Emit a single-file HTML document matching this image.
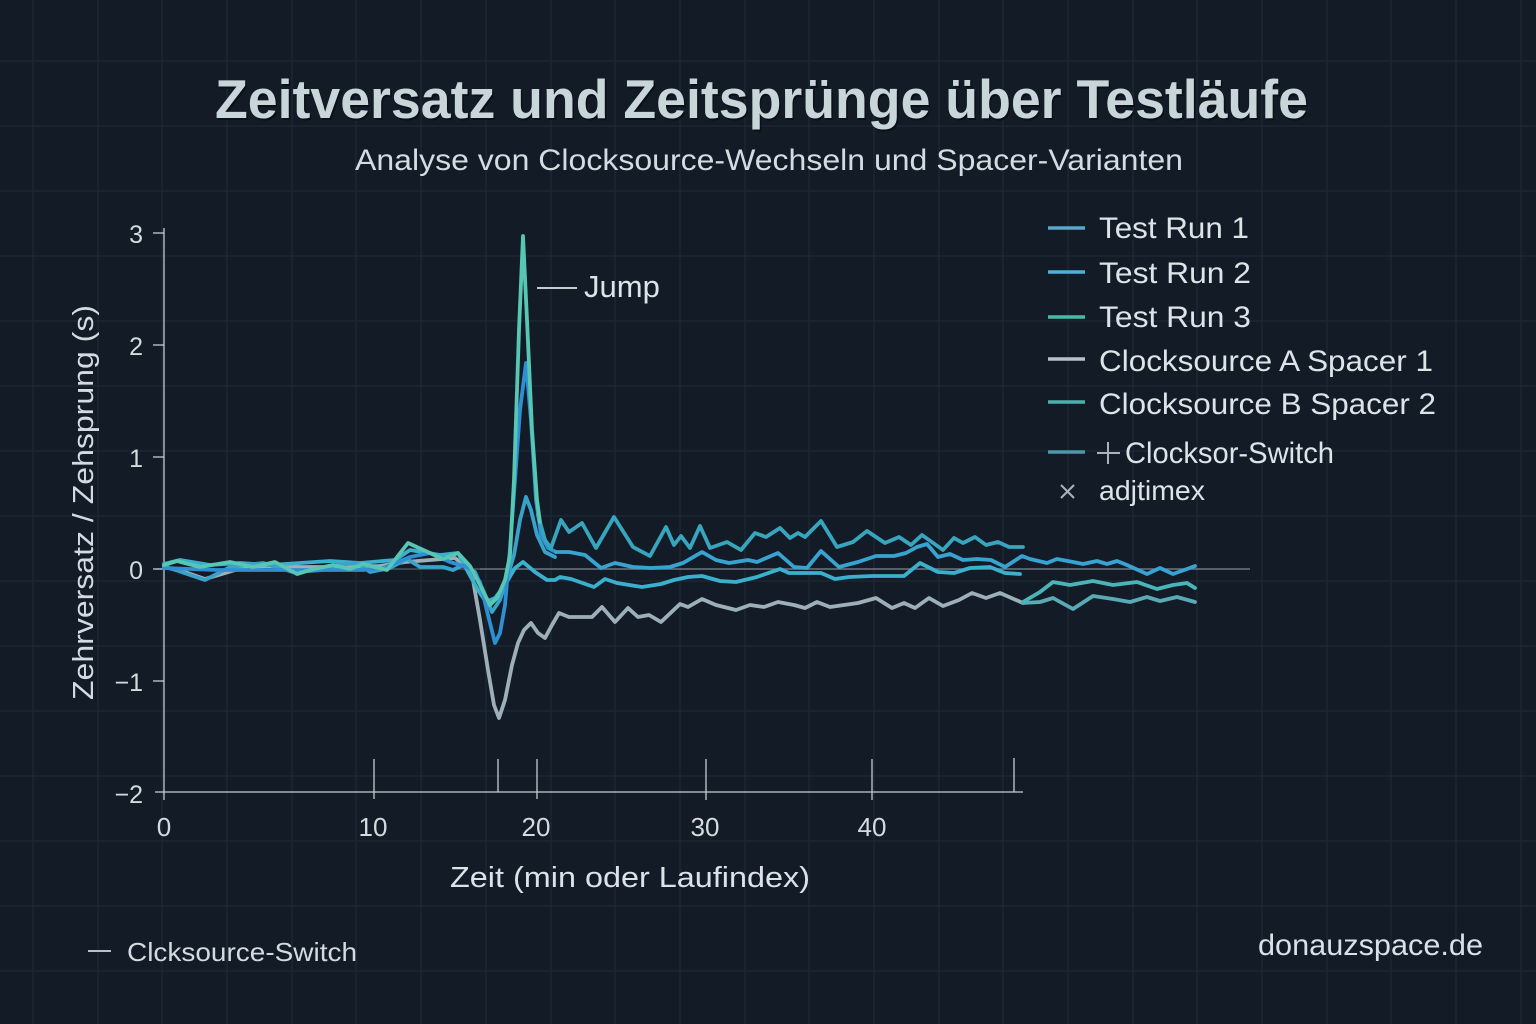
<!DOCTYPE html>
<html>
<head>
<meta charset="utf-8">
<style>
  html,body{margin:0;padding:0;background:#131b27;}
  svg{display:block;}
  text{font-family:"Liberation Sans",sans-serif;}
</style>
</head>
<body>
<svg width="1536" height="1024" viewBox="0 0 1536 1024" xmlns="http://www.w3.org/2000/svg">
  <rect x="0" y="0" width="1536" height="1024" fill="#131b27"/>
  <!-- background grid -->
  <g stroke="#1f2a37" stroke-width="1.2">
    <line x1="33" y1="0" x2="33" y2="1024"/>
    <line x1="98" y1="0" x2="98" y2="1024"/>
    <line x1="162" y1="0" x2="162" y2="1024"/>
    <line x1="227" y1="0" x2="227" y2="1024"/>
    <line x1="292" y1="0" x2="292" y2="1024"/>
    <line x1="356" y1="0" x2="356" y2="1024"/>
    <line x1="421" y1="0" x2="421" y2="1024"/>
    <line x1="486" y1="0" x2="486" y2="1024"/>
    <line x1="551" y1="0" x2="551" y2="1024"/>
    <line x1="615" y1="0" x2="615" y2="1024"/>
    <line x1="680" y1="0" x2="680" y2="1024"/>
    <line x1="745" y1="0" x2="745" y2="1024"/>
    <line x1="809" y1="0" x2="809" y2="1024"/>
    <line x1="874" y1="0" x2="874" y2="1024"/>
    <line x1="939" y1="0" x2="939" y2="1024"/>
    <line x1="1003" y1="0" x2="1003" y2="1024"/>
    <line x1="1068" y1="0" x2="1068" y2="1024"/>
    <line x1="1133" y1="0" x2="1133" y2="1024"/>
    <line x1="1197" y1="0" x2="1197" y2="1024"/>
    <line x1="1262" y1="0" x2="1262" y2="1024"/>
    <line x1="1327" y1="0" x2="1327" y2="1024"/>
    <line x1="1391" y1="0" x2="1391" y2="1024"/>
    <line x1="1456" y1="0" x2="1456" y2="1024"/>
    <line x1="1521" y1="0" x2="1521" y2="1024"/>
    <line x1="0" y1="61" x2="1536" y2="61"/>
    <line x1="0" y1="126" x2="1536" y2="126"/>
    <line x1="0" y1="191" x2="1536" y2="191"/>
    <line x1="0" y1="256" x2="1536" y2="256"/>
    <line x1="0" y1="321" x2="1536" y2="321"/>
    <line x1="0" y1="386" x2="1536" y2="386"/>
    <line x1="0" y1="451" x2="1536" y2="451"/>
    <line x1="0" y1="516" x2="1536" y2="516"/>
    <line x1="0" y1="581" x2="1536" y2="581"/>
    <line x1="0" y1="646" x2="1536" y2="646"/>
    <line x1="0" y1="711" x2="1536" y2="711"/>
    <line x1="0" y1="776" x2="1536" y2="776"/>
    <line x1="0" y1="841" x2="1536" y2="841"/>
    <line x1="0" y1="906" x2="1536" y2="906"/>
    <line x1="0" y1="971" x2="1536" y2="971"/>
  </g>

  <!-- Title -->
  <text x="215" y="118" font-size="55" font-weight="bold" fill="#0b1018" textLength="1093" lengthAdjust="spacingAndGlyphs" transform="translate(1.5,2)">Zeitversatz und Zeitsprünge über Testläufe</text>
  <text x="215" y="118" font-size="55" font-weight="bold" fill="#c9d6d9" textLength="1093" lengthAdjust="spacingAndGlyphs">Zeitversatz und Zeitsprünge über Testläufe</text>
  <text x="355" y="170" font-size="30" fill="#d3dce1" textLength="828" lengthAdjust="spacingAndGlyphs">Analyse von Clocksource-Wechseln und Spacer-Varianten</text>

  <!-- zero reference line -->
  <line x1="155" y1="569" x2="480" y2="569" stroke="#4a5660" stroke-width="1.5"/>
  <line x1="480" y1="569" x2="1250" y2="569" stroke="#6d7880" stroke-width="1.5"/>

  <!-- axes -->
  <g stroke="#c5cdd1" stroke-width="1.3" fill="none">
    <line x1="164" y1="228" x2="164" y2="800"/>
    <line x1="155" y1="792" x2="1023" y2="792"/>
    <line x1="153" y1="233" x2="164" y2="233"/>
    <line x1="153" y1="345" x2="164" y2="345"/>
    <line x1="153" y1="457" x2="164" y2="457"/>
    <line x1="153" y1="569" x2="164" y2="569"/>
    <line x1="153" y1="681" x2="164" y2="681"/>
    <line x1="374" y1="759" x2="374" y2="799"/>
    <line x1="498" y1="759" x2="498" y2="792"/>
    <line x1="537" y1="759" x2="537" y2="799"/>
    <line x1="706" y1="759" x2="706" y2="800"/>
    <line x1="872" y1="759" x2="872" y2="800"/>
    <line x1="1014" y1="758" x2="1014" y2="792"/>
  </g>

  <!-- y tick labels -->
  <g font-size="25" fill="#d3dbe0" text-anchor="end">
    <text x="143" y="243">3</text>
    <text x="143" y="355">2</text>
    <text x="143" y="467">1</text>
    <text x="143" y="579">0</text>
    <text x="143" y="691">−1</text>
    <text x="143" y="803">−2</text>
  </g>
  <!-- x tick labels -->
  <g font-size="26" fill="#d3dbe0" text-anchor="middle">
    <text x="164" y="836">0</text>
    <text x="373" y="836">10</text>
    <text x="536" y="836">20</text>
    <text x="705" y="836">30</text>
    <text x="872" y="836">40</text>
  </g>

  <!-- axis labels -->
  <text x="450" y="887" font-size="29" fill="#dbe3e8" textLength="360" lengthAdjust="spacingAndGlyphs">Zeit (min oder Laufindex)</text>
  <text transform="translate(93,700) rotate(-90)" x="0" y="0" font-size="29" fill="#d3dbe0" textLength="395" lengthAdjust="spacingAndGlyphs">Zehrversatz / Zehsprung (s)</text>

  <!-- series -->
  <g fill="none" stroke-width="3.8" stroke-linejoin="round" stroke-linecap="round">
    <polyline stroke="#9db0b9" points="164,567 185,572 205,579 235,570 265,566 300,567 340,567 380,566 405,562 430,560 455,558 465,566 473,580 480,620 488,670 494,705 499,718 505,700 512,665 518,643 524,630 531,623 538,633 545,638 552,625 559,613 569,617 592,617 602,607 615,622 628,608 638,617 649,615 661,622 680,604 688,607 702,599 716,605 736,610 750,605 764,607 778,602 794,605 805,608 817,602 830,607 858,603 876,598 892,608 904,603 915,608 929,598 943,606 959,600 972,593 986,598 1000,593 1023,603"/>
    <polyline stroke="#5aaab5" points="1023,603 1040,602 1053,598 1073,609 1093,596 1113,599 1130,602 1147,597 1160,601 1177,597 1195,602"/>
    <polyline stroke="#4ab5b8" points="1023,602 1040,592 1053,582 1070,585 1093,581 1113,585 1137,582 1157,589 1173,585 1187,583 1195,588"/>

    <polyline stroke="#3bb0cc" points="164,564 180,560 210,565 240,563 270,565 300,563 330,561 360,563 395,560 410,550 440,555 458,553 468,572 478,590 486,602 495,598 505,585 515,568 523,562 535,572 547,580 555,580 560,577 571,579 594,587 605,579 617,583 642,587 661,584 674,580 688,577 702,576 720,581 736,582 757,577 780,569 789,573 798,573 821,573 835,579 849,577 872,576 904,576 920,563 938,572 954,573 970,568 990,567 1005,573 1020,574"/>

    <polyline stroke="#39a2c9" points="164,566 190,575 205,580 230,567 263,563 293,572 323,570 337,565 357,563 370,572 390,568 407,559 420,567 443,567 453,570 463,565 475,572 483,590 492,612 500,600 508,575 514,555 520,520 526,497 531,510 537,535 545,552 555,557"/>

    <polyline stroke="#2e8fd3" points="164,568 217,570 250,570 290,570 330,570 363,570 383,568 410,557 430,553 450,562 470,568 480,582 488,615 495,643 500,633 505,605 510,548 515,480 520,410 526,363 531,420 536,500 541,535 548,548 556,552"/>
    <polyline stroke="#38a3d0" points="556,552 569,552 585,555 601,568 615,563 633,567 651,568 670,567 683,563 702,552 716,560 729,563 748,560 757,562 778,553 794,567 807,568 821,551 839,567 858,562 876,556 894,556 906,553 917,547 927,544 938,557 950,554 963,560 977,559 991,560 1005,567 1022,556 1030,559 1047,563 1057,559 1073,562 1083,564 1097,561 1107,564 1117,561 1127,565 1147,574 1160,568 1173,574 1187,569 1195,566"/>

    <polyline stroke="#37a5bd" points="538,515 545,540 551,548 561,520 569,532 582,523 596,548 614,517 633,547 650,556 666,527 674,545 681,536 690,548 700,526 710,548 727,542 741,550 755,533 766,537 780,528 790,538 798,533 805,537 821,521 837,547 853,542 867,531 885,543 899,537 911,545 922,535 943,550 954,538 963,543 975,537 986,545 998,542 1009,547 1023,547"/>

    <polyline stroke="#57c6b2" points="164,565 177,561 200,567 230,562 253,567 275,562 297,574 310,570 333,565 350,569 363,564 387,570 408,543 430,553 443,559 458,553 470,566 480,585 490,605 497,598 505,580 510,555 514,480 519,330 523,236 527,320 532,430 537,500 540,522"/>
  </g>

  <!-- Jump annotation -->
  <line x1="537" y1="288" x2="577" y2="288" stroke="#c4ccd0" stroke-width="2"/>
  <text x="584" y="297" font-size="31" fill="#dce4e8">Jump</text>

  <!-- Legend -->
  <g stroke-width="3.4">
    <line x1="1048" y1="228" x2="1085" y2="228" stroke="#5aa8c8"/>
    <line x1="1048" y1="272" x2="1085" y2="272" stroke="#4cb0d8"/>
    <line x1="1048" y1="317" x2="1085" y2="317" stroke="#4cb8a8"/>
    <line x1="1048" y1="359" x2="1085" y2="359" stroke="#b8c2c6"/>
    <line x1="1048" y1="402" x2="1085" y2="402" stroke="#4cb0a8"/>
    <line x1="1048" y1="452" x2="1085" y2="452" stroke="#4a98a8"/>
  </g>
  <g stroke="#aab4b8" stroke-width="2">
    <line x1="1097" y1="453" x2="1120" y2="453"/>
    <line x1="1108" y1="442" x2="1108" y2="464"/>
    <line x1="1061" y1="485" x2="1074" y2="498"/>
    <line x1="1074" y1="485" x2="1061" y2="498"/>
  </g>
  <g font-size="30" fill="#dce4e8">
    <text x="1099" y="238" textLength="150" lengthAdjust="spacingAndGlyphs">Test Run 1</text>
    <text x="1099" y="283" textLength="152" lengthAdjust="spacingAndGlyphs">Test Run 2</text>
    <text x="1099" y="327" textLength="152" lengthAdjust="spacingAndGlyphs">Test Run 3</text>
    <text x="1099" y="371" textLength="334" lengthAdjust="spacingAndGlyphs">Clocksource A Spacer 1</text>
    <text x="1099" y="414" textLength="337" lengthAdjust="spacingAndGlyphs">Clocksource B Spacer 2</text>
    <text x="1125" y="463" textLength="209" lengthAdjust="spacingAndGlyphs">Clocksor-Switch</text>
    <text x="1099" y="500" font-size="28" textLength="106" lengthAdjust="spacingAndGlyphs">adjtimex</text>
  </g>

  <!-- bottom-left legend -->
  <line x1="88" y1="951" x2="111" y2="951" stroke="#b8c2c6" stroke-width="2"/>
  <text x="127" y="961" font-size="26" fill="#d3dbe0" textLength="230" lengthAdjust="spacingAndGlyphs">Clcksource-Switch</text>

  <!-- watermark -->
  <text x="1258" y="955" font-size="30" fill="#d6e1e8" textLength="225" lengthAdjust="spacingAndGlyphs">donauzspace.de</text>
</svg>
</body>
</html>
